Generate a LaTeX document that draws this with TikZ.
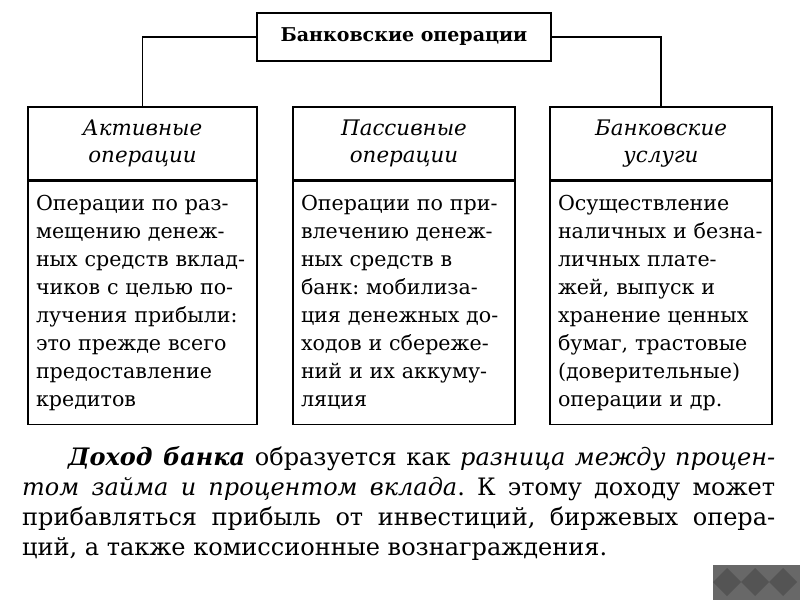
\documentclass[tikz,border=0pt]{standalone}
\usepackage{fontspec}
\setmainfont{DejaVu Serif}
\usetikzlibrary{positioning}
\hyphenpenalty=10000
\exhyphenpenalty=10000
\frenchspacing

\begin{document}
\begin{tikzpicture}[x=1pt,y=1pt,
  every node/.style={inner sep=0pt},
  line/.style={black, line width=1.2pt},
  titlebox/.style={draw, line width=1.2pt, minimum width=294pt, minimum height=48pt, font=\fontsize{19}{24}\selectfont\bfseries},
  headbox/.style={draw, line width=1.2pt, minimum height=73pt, align=center, font=\fontsize{21.4}{27}\selectfont\itshape},
  textbox/.style={draw, line width=1.2pt, minimum height=243pt, inner xsep=8pt, align=left, font=\fontsize{20.6}{28}\selectfont},
  para/.style={text width=753pt, align=justify, font=\fontsize{24}{30}\selectfont},
  deco/.style={fill={rgb,255:red,104;green,104;blue,104}},
  decodark/.style={fill={rgb,255:red,84;green,84;blue,84}}]
\useasboundingbox (0,0) rectangle (800,-600);
\node[titlebox] (bank) at (404,-37) {Банковские операции};
\node[headbox, minimum width=229pt] (act) at (142.5,-143.5) {Активные\\операции};
\node[headbox, minimum width=222pt] (pas) at (404,-143.5) {Пассивные\\операции};
\node[headbox, minimum width=222pt] (serv) at (661,-143.5) {Банковские\\услуги};
\node[textbox, text width=213pt, below=0pt of act] (acttext) {Операции по раз-\\мещению денеж-\\ных средств вклад-\\чиков с целью по-\\лучения прибыли:\\это прежде всего\\предоставление\\кредитов};
\node[textbox, text width=206pt, below=0pt of pas] (pastext) {Операции по при-\\влечению денеж-\\ных средств в\\банк: мобилиза-\\ция денежных до-\\ходов и сбереже-\\ний и их аккуму-\\ляция};
\node[textbox, text width=206pt, below=0pt of serv] (servtext) {Осуществление\\наличных и безна-\\личных плате-\\жей, выпуск и\\хранение ценных\\бумаг, трастовые\\(доверительные)\\операции и др.};
\draw[line] (bank.west) -| (act.north);
\draw[line] (bank.east) -| (serv.north);
\node[para, anchor=north west] (note) at (22,-446) {\hspace*{46pt}\textbf{\textit{Доход банка}} образуется как \textit{разница между процен-}\linebreak
\textit{том займа и процентом вклада}. К этому доходу может\linebreak
прибавляться прибыль от инвестиций, биржевых опера-\linebreak
ций, а также комиссионные вознаграждения.};
\fill[deco] (713,-565) rectangle (800,-600);
\foreach \x in {727,755,783}
  \fill[decodark] (\x,-568) -- (\x+14,-582) -- (\x,-596) -- (\x-14,-582) -- cycle;
\end{tikzpicture}
\end{document}
